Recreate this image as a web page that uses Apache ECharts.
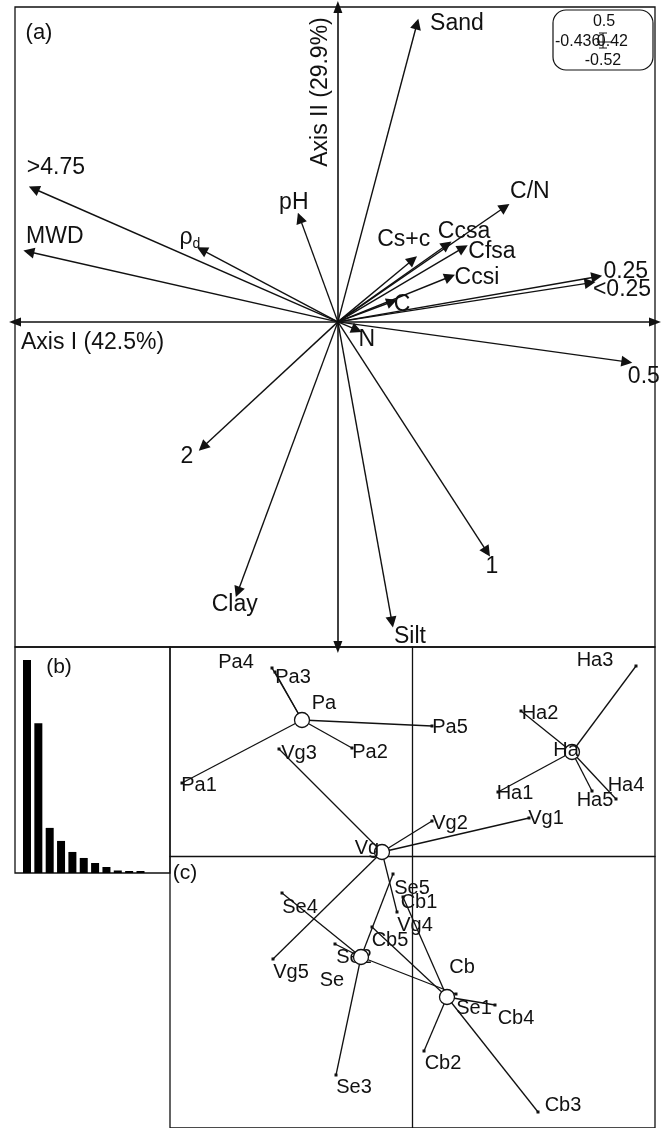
<!DOCTYPE html>
<html><head><meta charset="utf-8">
<script src="https://cdn.jsdelivr.net/npm/echarts@6/dist/echarts.min.js"></script>
<style>html,body{margin:0;padding:0;background:#fff}#c{width:670px;height:1128px}</style>
</head><body><div id="c"></div>
<script>
// ---- data ----
const varNames = ['>4.75','MWD','ρd','pH','Sand','C/N','Cs+c','Ccsa','Cfsa','Ccsi','C','0.25','<0.25','N','0.5','1','Silt','Clay','2'];
const varAxis1 = [-0.95,-0.966,-0.425,-0.119,0.247,0.522,0.234,0.341,0.391,0.35,0.169,0.809,0.788,0.059,0.903,0.466,0.169,-0.313,-0.422];
const varAxis2 = [0.416,0.219,0.225,0.325,0.931,0.359,0.194,0.241,0.231,0.141,0.063,0.141,0.122,-0.025,-0.125,-0.719,-0.938,-0.844,-0.391];
const axisNames = ['Axis I (42.5%)','Axis II (29.9%)'];
const eigenvalues = [42.5,29.9,9.0,6.4,4.2,3.0,2.0,1.2,0.5,0.4,0.4];
const groupNames = ['Pa','Vg','Ha','Se','Cb'];
const groupX = [-1.10,-0.30,1.60,-0.51,0.35];
const groupY = [1.36,0.04,1.04,-1.01,-1.41];
const sampleNames = ['Pa1','Pa2','Pa3','Pa4','Pa5','Vg1','Vg2','Vg3','Vg4','Vg5','Ha1','Ha2','Ha3','Ha4','Ha5','Se1','Se2','Se3','Se4','Se5','Cb1','Cb2','Cb3','Cb4','Cb5'];
const sampleGroup = ['Pa','Pa','Pa','Pa','Pa','Vg','Vg','Vg','Vg','Vg','Ha','Ha','Ha','Ha','Ha','Se','Se','Se','Se','Se','Cb','Cb','Cb','Cb','Cb'];
const sampleX = [-2.30,-0.60,-1.37,-1.40,0.20, 1.17,0.20,-1.33,-0.15,-1.39, 0.86,1.09,2.24,2.04,1.80, 0.44,-0.77,-0.76,-1.30,-0.19, -0.09,0.12,1.26,0.83,-0.40];
const sampleY = [0.73,1.08,1.84,1.88,1.30, 0.38,0.35,1.07,-0.56,-1.03, 0.64,1.45,1.90,0.57,0.65, -1.38,-0.88,-2.19,-0.37,-0.18, -0.41,-1.95,-2.56,-1.49,-0.71];
const scaleLegend = ['0.5','-0.436','0.42','-0.52'];
const panelLabels = ['(a)','(b)','(c)'];

// ---- layout / style (not data) ----
const FONT = '"Liberation Sans", Arial, Helvetica, sans-serif';
const INK = '#111111';
const varLabelOffset = {'>4.75':[22,-21],'MWD':[26,-15],'ρd':[-12,-12],'pH':[-6,-15],'Sand':[40,0],'C/N':[25,-15],
  'Cs+c':[-9,-20],'Ccsa':[17,-13],'Cfsa':[29,4],'Ccsi':[27,1],'C':[10,3],'N':[10,10],'0.25':[29,-5],'<0.25':[32,7],
  '0.5':[17,15],'1':[5,15],'Silt':[18,15],'Clay':[-3,13],'2':[-16,10]};
const sampleLabelOffset = {'Pa1':[17,2],'Pa2':[18,4],'Pa3':[18,5],'Pa4':[-36,-6],'Pa5':[18,1],
  'Vg1':[17,0],'Vg2':[18,2],'Vg3':[20,4],'Vg4':[18,13],'Vg5':[18,13],
  'Ha1':[17,1],'Ha2':[19,2],'Ha3':[-41,-6],'Ha4':[10,-14],'Ha5':[3,9],
  'Se1':[18,14],'Se2':[19,13],'Se3':[18,12],'Se4':[18,14],'Se5':[19,14],
  'Cb1':[16,5],'Cb2':[19,12],'Cb3':[25,-7],'Cb4':[21,13],'Cb5':[18,13]};
const groupLabelOffset = {'Pa':[22,-17],'Vg':[-15,-4],'Ha':[-6,-2],'Se':[-29,23],'Cb':[15,-30]};

function hiddenAxis(extra){
  return Object.assign({type:'value', axisTick:{show:false}, axisLabel:{show:false}, splitLine:{show:false},
    axisLine:{show:false}}, extra);
}
function lbl(off, fs, extra){
  return Object.assign({show:true, position:'inside', offset:off, fontSize:fs, fontFamily:FONT, color:INK,
    textBorderWidth:0, textBorderColor:'transparent', formatter:'{b}'}, extra||{});
}

const arrowData = varNames.map((n,i)=>({name:n, coords:[[0,0],[varAxis1[i],varAxis2[i]]]}));
const tipData = varNames.map((n,i)=>({name:n, value:[varAxis1[i],varAxis2[i]],
  label: lbl(varLabelOffset[n], 23, {
    formatter: p => p.name==='ρd' ? '{r|ρ}{s|d}' : p.name,
    rich:{r:{fontSize:23, fontFamily:FONT, color:INK}, s:{fontSize:14, fontFamily:FONT, color:INK, padding:[12,0,0,0]}}})}));

const gi = g => groupNames.indexOf(g);
const spokeData = sampleNames.map((n,i)=>({coords:[[groupX[gi(sampleGroup[i])],groupY[gi(sampleGroup[i])]],[sampleX[i],sampleY[i]]]}));
const sampleData = sampleNames.map((n,i)=>({name:n, value:[sampleX[i],sampleY[i]], label: lbl(sampleLabelOffset[n], 20)}));
const groupData = groupNames.map((n,i)=>({name:n, value:[groupX[i],groupY[i]], label: lbl(groupLabelOffset[n], 20)}));

const chart = echarts.init(document.getElementById('c'), null, {renderer:'canvas'});
chart.setOption({
  backgroundColor:'#fff',
  animation:false,
  grid:[
    {left:15, top:7, width:640, height:640, show:true, borderColor:INK, borderWidth:1.3, backgroundColor:'transparent'},
    {left:15, top:647, width:155, height:226, show:true, borderColor:INK, borderWidth:1.3, backgroundColor:'transparent'},
    {left:170, top:647, width:485, height:481, show:true, borderColor:INK, borderWidth:1.3, backgroundColor:'transparent'}
  ],
  xAxis:[
    hiddenAxis({gridIndex:0, min:-1.009, max:0.991,
      axisLine:{show:true, onZero:true, symbol:['triangle','triangle'], symbolSize:[9,12], lineStyle:{color:INK, width:1.6}}}),
    hiddenAxis({gridIndex:1, min:-0.057, max:13.6}),
    hiddenAxis({gridIndex:2, min:-2.42, max:2.43,
      axisLine:{show:true, onZero:true, lineStyle:{color:INK, width:1.3}}})
  ],
  yAxis:[
    hiddenAxis({gridIndex:0, min:-1.016, max:0.984,
      axisLine:{show:true, onZero:true, symbol:['triangle','triangle'], symbolSize:[9,12], lineStyle:{color:INK, width:1.6}}}),
    hiddenAxis({gridIndex:1, min:0, max:45.1}),
    hiddenAxis({gridIndex:2, min:-2.72, max:2.09,
      axisLine:{show:true, onZero:true, lineStyle:{color:INK, width:1.3}}})
  ],
  series:[
    {type:'lines', coordinateSystem:'cartesian2d', xAxisIndex:0, yAxisIndex:0, silent:true,
      symbol:['none','triangle'], symbolSize:[1,11], lineStyle:{color:INK, width:1.4, opacity:1}, data:arrowData, z:3},
    {type:'scatter', xAxisIndex:0, yAxisIndex:0, symbol:'rect', symbolSize:3, itemStyle:{color:INK, opacity:1}, data:tipData, z:4},
    {type:'bar', xAxisIndex:1, yAxisIndex:1, barWidth:8, itemStyle:{color:'#000'},
      data:eigenvalues.map((v,i)=>[i+1,v])},
    {type:'lines', coordinateSystem:'cartesian2d', xAxisIndex:2, yAxisIndex:2, silent:true,
      symbol:['none','none'], lineStyle:{color:INK, width:1.3, opacity:1}, data:spokeData, z:3},
    {type:'scatter', xAxisIndex:2, yAxisIndex:2, symbol:'rect', symbolSize:3, itemStyle:{color:INK, opacity:1}, data:sampleData, z:4},
    {type:'scatter', xAxisIndex:2, yAxisIndex:2, symbol:'circle', symbolSize:15,
      itemStyle:{color:'#fff', borderColor:INK, borderWidth:1.3, opacity:1}, data:groupData, z:5}
  ],
  graphic:[
    {type:'text', x:39, y:33, style:{text:panelLabels[0], font:'22px '+FONT, fill:INK, textAlign:'center', textVerticalAlign:'middle'}},
    {type:'text', x:59, y:667, style:{text:panelLabels[1], font:'21px '+FONT, fill:INK, textAlign:'center', textVerticalAlign:'middle'}},
    {type:'text', x:185, y:873, style:{text:panelLabels[2], font:'21px '+FONT, fill:INK, textAlign:'center', textVerticalAlign:'middle'}},
    {type:'text', x:21, y:343, style:{text:axisNames[0], font:'23px '+FONT, fill:INK, textAlign:'left', textVerticalAlign:'middle'}},
    {type:'text', x:321, y:92, rotation:Math.PI/2, style:{text:axisNames[1], font:'23px '+FONT, fill:INK, textAlign:'center', textVerticalAlign:'middle'}},
    {type:'rect', shape:{x:553, y:10, width:100, height:60, r:13}, style:{fill:'#fff', stroke:INK, lineWidth:1.2}, z:10},
    {type:'text', x:604, y:22, z:11, style:{text:scaleLegend[0], font:'16px '+FONT, fill:INK, textAlign:'center', textVerticalAlign:'middle'}},
    {type:'text', x:555, y:42, z:11, style:{text:scaleLegend[1], font:'16px '+FONT, fill:INK, textAlign:'left', textVerticalAlign:'middle'}},
    {type:'text', x:628, y:42, z:11, style:{text:scaleLegend[2], font:'16px '+FONT, fill:INK, textAlign:'right', textVerticalAlign:'middle'}},
    {type:'text', x:603, y:61, z:11, style:{text:scaleLegend[3], font:'16px '+FONT, fill:INK, textAlign:'center', textVerticalAlign:'middle'}},
    {type:'polyline', z:12, shape:{points:[[599,33],[607,33]]}, style:{stroke:INK, lineWidth:1}},
    {type:'polyline', z:12, shape:{points:[[603,33],[603,48]]}, style:{stroke:INK, lineWidth:1}},
    {type:'polyline', z:12, shape:{points:[[599,48],[607,48]]}, style:{stroke:INK, lineWidth:1}},
    {type:'polyline', z:12, shape:{points:[[597,42],[612,42]]}, style:{stroke:INK, lineWidth:1}}
  ]
});
</script>
</body></html>
